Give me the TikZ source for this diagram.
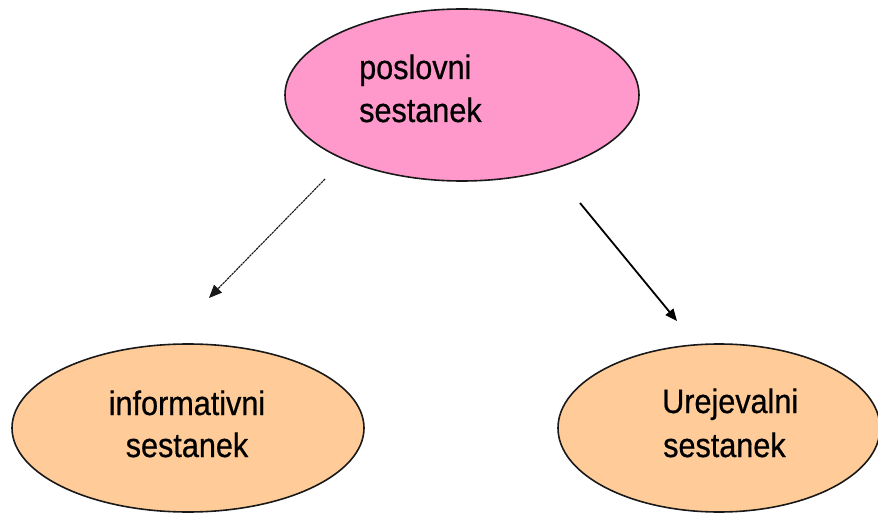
\documentclass[tikz,border=0pt]{standalone}
\usepackage{fontspec}
\setmainfont{Liberation Sans}
\newfontfamily\labelfont[FakeStretch=0.9,FakeBold=0.6]{Liberation Sans}
\usetikzlibrary{shapes.geometric,arrows.meta}
\definecolor{pinkfill}{HTML}{FF99CC}
\definecolor{peachfill}{HTML}{FFCC99}
\tikzset{
  topic/.style={ellipse, draw=black!90, line width=1.6pt, inner sep=0pt},
  caption/.style={inner sep=0pt, font=\labelfont\fontsize{34}{43}\selectfont, text=black},
  thinlink/.style={draw=black!90, line width=1.1pt, dash pattern=on 2.5pt off 0.7pt,
    -{Triangle[length=13pt,width=11pt]}},
  boldlink/.style={draw=black, line width=1.8pt, -{Triangle[length=12pt,width=10pt]}}
}
\begin{document}
\begin{tikzpicture}[x=1pt,y=-1pt]
  \useasboundingbox (0,0) rectangle (878,513);
  % ellipses
  \node[topic, fill=pinkfill, minimum width=354pt, minimum height=172pt] (meeting) at (462,95) {};
  \node[topic, fill=peachfill, minimum width=352pt, minimum height=168pt] (info) at (188,428) {};
  \node[topic, fill=peachfill, minimum width=322pt, minimum height=168pt] (edit) at (719,428) {};
  % labels
  \node[caption, anchor=base west] (meetingA) at (359,79) {poslovni};
  \node[caption, anchor=base west] (meetingB) at (359,122) {sestanek};
  \node[caption, anchor=base] (infoA) at (187,415) {informativni};
  \node[caption, anchor=base] (infoB) at (187,457) {sestanek};
  \node[caption, anchor=base west] (editA) at (662,413) {Urejevalni};
  \node[caption, anchor=base west] (editB) at (663,457) {sestanek};
  % arrow end points
  \coordinate (l0) at (325,179);
  \coordinate (l1) at (209,298);
  \coordinate (r0) at (580,203);
  \coordinate (r1) at (677,321);
  \draw[thinlink] (l0) -- (l1);
  \draw[boldlink] (r0) -- (r1);
\end{tikzpicture}
\end{document}
